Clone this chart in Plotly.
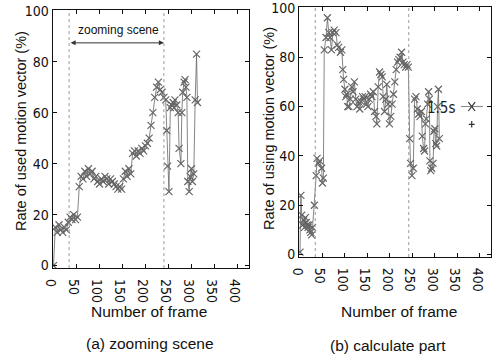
import plotly.graph_objects as go

# ---- data (a) zooming scene ----
frames_a = [0, 4, 8, 12, 16, 20, 24, 28, 32, 36, 40, 44, 48, 52, 56, 60, 64, 68, 72, 76,
            80, 84, 88, 92, 96, 100, 104, 108, 112, 116, 120, 124, 128, 132, 136, 140, 144,
            148, 152, 156, 160, 164, 168, 172, 176, 180, 184, 188, 192, 196, 200, 204, 208,
            212, 216, 220, 224, 228, 232, 236, 240, 244, 246, 248, 251, 254, 257, 260, 262,
            264, 268, 271, 273, 277, 279, 281, 284, 286, 288, 290, 292, 295, 297, 300, 302,
            305, 308, 311, 313]
rate_a = [0, 15, 13, 16, 14, 13, 15, 14, 17, 19, 18, 20, 18, 19, 31, 35, 34, 37, 35, 38,
          36, 37, 34, 35, 33, 32, 34, 33, 35, 34, 32, 34, 33, 32, 31, 30, 31,
          30, 34, 37, 35, 38, 36, 44, 45, 43, 45, 44, 46, 45, 47, 48, 50,
          55, 60, 66, 70, 72, 69, 68, 66, 65, 53, 39, 29, 62, 63, 64, 62,
          65, 63, 60, 46, 40, 60, 68, 72, 73, 70, 66, 33, 29, 35, 38, 33,
          36, 65, 83, 64]

# ---- data (b) calculate part ----
frames_b = [0, 2, 4, 6, 8, 10, 12, 14, 16, 18, 20, 22, 24, 26, 28, 32, 36, 38, 41, 44, 48,
            50, 52, 54, 58, 61, 64, 67, 70, 73, 76, 80, 83, 86, 90, 93, 95, 97, 100, 102,
            104, 106, 109, 112, 115, 118, 121, 124, 127, 130, 133, 136, 139, 142, 145, 148,
            151, 154, 157, 160, 163, 166, 169, 171, 174, 177, 180, 183, 185, 188, 191, 193,
            196, 199, 202, 205, 208, 211, 214, 217, 220, 223, 226, 229, 232, 235, 238, 241,
            244, 246, 249, 252, 255, 258, 261, 264, 267, 270, 272, 275, 277, 279, 281, 284,
            286, 288, 289, 291, 293, 296, 298, 300, 302, 304, 306, 308, 310]
rate_b = [1, 24, 16, 12, 14, 11, 15, 13, 12, 11, 12, 10, 9, 8, 11, 20, 32, 39, 37, 38, 35,
          29, 31, 83, 88, 96, 90, 88, 83, 90, 91, 90, 85, 84, 82, 83, 75, 71, 67, 64,
          65, 60, 60, 63, 68, 66, 70, 63, 60, 62, 59, 62, 64, 63, 64, 61,
          60, 63, 65, 64, 66, 58, 56, 53, 68, 74, 73, 72, 64, 58, 63, 69,
          61, 53, 56, 61, 65, 70, 75, 78, 79, 80, 82, 78, 77, 76, 77, 76,
          47, 37, 32, 35, 63, 64, 59, 57, 56, 58, 48, 43, 42, 53, 55, 61,
          66, 63, 38, 34, 35, 37, 50, 51, 45, 44, 60, 67, 47]

x_ticks = [0, 50, 100, 150, 200, 250, 300, 350, 400]
y_ticks = [0, 20, 40, 60, 80, 100]

TICKFONT = dict(family="DejaVu Sans Condensed, Liberation Sans Narrow, sans-serif",
                size=14, color="#111")
TXTFONT = dict(family="Liberation Sans, Arial, sans-serif", size=15.5, color="#111")
YTFONT = dict(family="Liberation Sans, Arial, sans-serif", size=14.5, color="#111")
LINE_C = "#666"
MARK_C = "#333"

fig = go.Figure()
for fr, rt, xa, ya in [(frames_a, rate_a, "x", "y"), (frames_b, rate_b, "x2", "y2")]:
    fig.add_trace(go.Scatter(
        x=fr, y=rt, xaxis=xa, yaxis=ya, mode="lines+markers",
        line=dict(color=LINE_C, width=0.8),
        marker=dict(symbol="x-thin-open", size=7, line=dict(color=MARK_C, width=1.2)),
        showlegend=False, hoverinfo="skip"))

axis_common = dict(showgrid=False, zeroline=False, showline=True, linecolor="#111", linewidth=1,
                   mirror="ticks", ticks="inside", ticklen=4, tickcolor="#111",
                   tickfont=TICKFONT, automargin=False, ticklabeloverflow="allow")

fig.update_layout(
    width=496, height=357, margin=dict(l=0, r=0, t=0, b=0, autoexpand=False),
    paper_bgcolor="white", plot_bgcolor="white",
    xaxis=dict(domain=[0.106, 0.502], range=[-2, 425], tickvals=x_ticks, anchor="y", **axis_common),
    yaxis=dict(domain=[0.249, 0.972], range=[-1, 100.3], tickvals=y_ticks, anchor="x", **axis_common),
    xaxis2=dict(domain=[0.603, 0.990], range=[-2, 425], tickvals=x_ticks, anchor="y2", **axis_common),
    yaxis2=dict(domain=[0.280, 0.980], range=[-1, 100.3], tickvals=y_ticks, anchor="x2", **axis_common),
)

# dotted scene markers
for xv, xr, yr in [(34, "x", "y"), (240, "x", "y"), (34, "x2", "y2"), (242, "x2", "y2")]:
    fig.add_shape(type="line", xref=xr, yref=yr, x0=xv, x1=xv, y0=-1, y1=100.3,
                  line=dict(color="#999", width=1, dash="dot"))

C = dict(xanchor="center", yanchor="middle", showarrow=False)
ann = []
# zooming scene label and double arrow
ann.append(dict(x=141, y=92.4, xref="x", yref="y", text="zooming scene",
                font=dict(family="Liberation Sans, Arial, sans-serif", size=12, color="#111"), **C))
ann.append(dict(x=240, y=87.4, ax=34, ay=87.4, xref="x", yref="y", axref="x", ayref="y",
                text="", showarrow=True, arrowhead=2, arrowside="end+start", arrowsize=1,
                arrowwidth=1, arrowcolor="#333"))
# axis titles
ann.append(dict(x=21 / 496, y=(357 - 131) / 357, xref="paper", yref="paper", textangle=-90,
                text="Rate of used motion vector (%)", font=YTFONT, **C))
ann.append(dict(x=269 / 496, y=(357 - 129) / 357, xref="paper", yref="paper", textangle=-90,
                text="Rate of using motion vector (%)", font=YTFONT, **C))
ann.append(dict(x=149 / 496, y=(357 - 311.5) / 357, xref="paper", yref="paper",
                text="Number of frame", font=TXTFONT, **C))
ann.append(dict(x=399 / 496, y=(357 - 311.5) / 357, xref="paper", yref="paper",
                text="Number of frame", font=TXTFONT, **C))
# captions
ann.append(dict(x=150 / 496, y=(357 - 343.5) / 357, xref="paper", yref="paper",
                text="(a) zooming scene", font=TXTFONT, **C))
ann.append(dict(x=388 / 496, y=(357 - 345) / 357, xref="paper", yref="paper",
                text="(b) calculate part", font=TXTFONT, **C))
# legend key (b): label, line sample, × and + symbols drawn as shapes
ann.append(dict(x=350, y=59.5, xref="x2", yref="y2", text="1.5s", showarrow=False,
                xanchor="right", yanchor="middle",
                font=dict(family=TICKFONT["family"], size=15, color="#222")))
fig.update_layout(annotations=ann)
key_line = dict(color=LINE_C, width=0.8)
key_mark = dict(color=MARK_C, width=1.2)
fig.add_shape(type="line", xref="x2", yref="y2", x0=358, x1=407, y0=60, y1=60, line=key_line)
fig.add_shape(type="line", xref="x2", yref="y2", x0=374.5, x1=389.5, y0=58.2, y1=61.8, line=key_mark)
fig.add_shape(type="line", xref="x2", yref="y2", x0=374.5, x1=389.5, y0=61.8, y1=58.2, line=key_mark)
fig.add_shape(type="line", xref="x2", yref="y2", x0=375.5, x1=388.5, y0=52.8, y1=52.8, line=key_mark)
fig.add_shape(type="line", xref="x2", yref="y2", x0=382, x1=382, y0=51.5, y1=54.1, line=key_mark)

fig.write_html("out.html")
